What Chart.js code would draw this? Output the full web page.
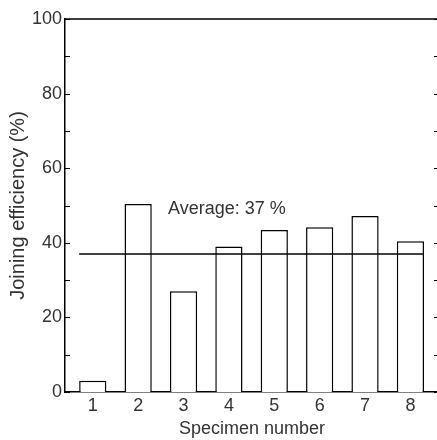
<!DOCTYPE html>
<html>
<head>
<meta charset="utf-8">
<script src="https://cdn.jsdelivr.net/npm/chart.js@4.4.1/dist/chart.umd.min.js"></script>
<style>
  html, body { margin: 0; padding: 0; background: #fff; overflow: hidden; }
  #wrap { width: 439px; height: 440px; }
</style>
</head>
<body>
<div id="wrap"><canvas id="mycanvas" width="439" height="440"></canvas></div>
<script>
// data
var specimens = [1, 2, 3, 4, 5, 6, 7, 8];
var efficiency = [3.0, 50.4, 27.0, 39.0, 43.4, 44.2, 47.2, 40.4];
var average = 37;
var averageSpan = [0.7, 8.3];
var yTicks = [0, 20, 40, 60, 80, 100];
var yMinor = [10, 30, 50, 70, 90];
var averageLabel = 'Average: 37 %';
var labelPos = { x: 2.66, y: 49 };

var txt = '#333333';
var fam = '"Liberation Sans", Arial, sans-serif';
var fnt = { family: fam, size: 18 };

// frame on top/right and inward ticks
var framePlugin = {
  id: 'frame',
  afterDatasetsDraw: function(chart) {
    var c = chart.ctx, a = chart.chartArea, y = chart.scales.y, x = chart.scales.x;
    c.save();
    c.strokeStyle = '#000';
    c.lineWidth = 1.5;
    c.beginPath();
    c.moveTo(a.left, a.top);
    c.lineTo(a.right, a.top);
    c.lineTo(a.right, a.bottom);
    c.stroke();
    c.lineWidth = 1;
    yTicks.concat(yMinor).forEach(function(v) {
      var py = Math.round(y.getPixelForValue(v)) + 0.5;
      c.beginPath();
      c.moveTo(a.left, py); c.lineTo(a.left + 5, py);
      c.moveTo(a.right - 5, py); c.lineTo(a.right, py);
      c.stroke();
    });
    c.fillStyle = txt;
    c.font = fnt.size + 'px ' + fnt.family;
    c.textAlign = 'left';
    c.textBaseline = 'middle';
    c.fillText(averageLabel, x.getPixelForValue(labelPos.x), y.getPixelForValue(labelPos.y));
    c.restore();
  }
};

var ctx = document.getElementById('mycanvas');

new Chart(ctx, {
  type: 'bar',
  data: {
    datasets: [
      {
        type: 'line',
        label: 'Average',
        data: averageSpan.map(function(v) { return { x: v, y: average }; }),
        borderColor: '#000',
        borderWidth: 1.5,
        pointRadius: 0,
        fill: false,
        order: 0
      },
      {
        label: 'Joining efficiency',
        data: specimens.map(function(s, i) { return { x: s, y: efficiency[i] }; }),
        backgroundColor: '#ffffff',
        borderColor: '#000',
        borderWidth: 1.5,
        barPercentage: 0.6,
        categoryPercentage: 1,
        order: 1
      }
    ]
  },
  options: {
    responsive: false,
    animation: false,
    layout: { padding: { top: 19, right: 0, left: 0, bottom: 0 } },
    plugins: { legend: { display: false }, tooltip: { enabled: false } },
    scales: {
      x: {
        type: 'linear',
        offset: false,
        min: 0.388,
        max: 8.63,
        afterBuildTicks: function(s) { s.ticks = specimens.map(function(v) { return { value: v }; }); },
        afterFit: function(s) { s.height = 48; },
        grid: { display: false, drawTicks: false },
        border: { display: true, color: '#000', width: 1.5 },
        ticks: { color: txt, font: fnt, padding: 3, maxRotation: 0, autoSkip: false },
        title: { display: true, text: 'Specimen number', color: txt, font: fnt, padding: { top: 2, bottom: 0 } }
      },
      y: {
        min: 0,
        max: 100,
        afterBuildTicks: function(s) { s.ticks = yTicks.map(function(v) { return { value: v }; }); },
        afterFit: function(s) { s.width = 65; },
        grid: { display: false, drawTicks: false },
        border: { display: true, color: '#000', width: 1.5 },
        ticks: { color: txt, font: fnt, padding: 3 },
        title: { display: true, text: 'Joining efficiency (%)', color: txt, font: { family: fam, size: 20 }, padding: { top: 6, bottom: 0 } }
      }
    }
  },
  plugins: [framePlugin]
});
</script>
</body>
</html>
